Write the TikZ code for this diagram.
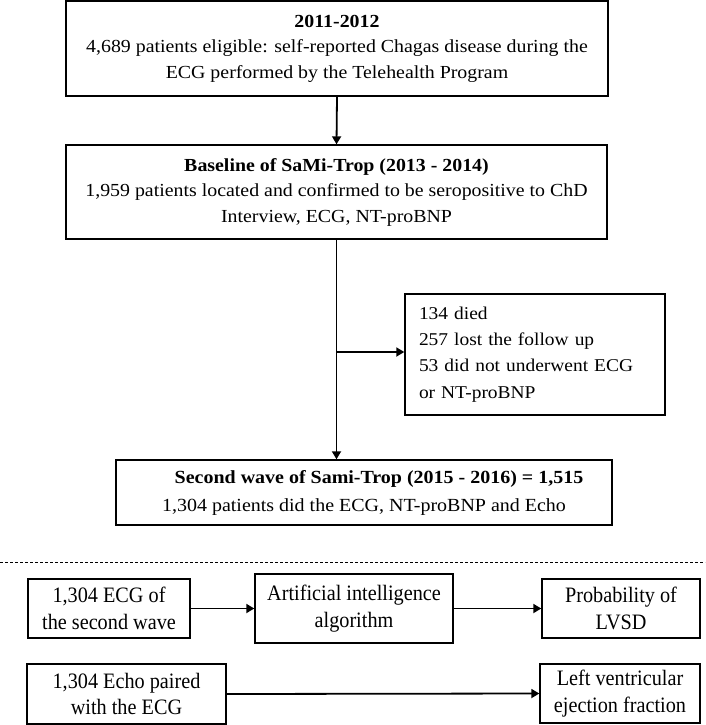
\documentclass[tikz,border=0pt]{standalone}
\usepackage{fontspec}
\setmainfont{Liberation Serif}
\newfontfamily\topfont{Liberation Serif}[FakeStretch=1.08]
\newfontfamily\botfont{Liberation Serif}[FakeStretch=0.92]
\usetikzlibrary{arrows.meta}
\begin{document}
\begin{tikzpicture}[x=1pt,y=-1pt,
  box/.style={draw,line width=1.4pt,inner sep=0pt,align=center,font=\topfont\fontsize{18.4}{25.5}\selectfont},
  bbox/.style={box,font=\botfont\fontsize{22}{26.5}\selectfont},
  arr/.style={line width=1.8pt,-{Triangle[length=8pt,width=9pt]}}]
\useasboundingbox (0,0) rectangle (705,725);
\node[box,minimum width=542pt,minimum height=95pt] (b1) at (337,48.5)
  {\textbf{2011-2012}\\4,689 patients eligible: self-reported Chagas disease during the\\ECG performed by the Telehealth Program};
\node[box,minimum width=541pt,minimum height=94pt] (b2) at (336.5,192)
  {\textbf{Baseline of SaMi-Trop (2013 - 2014)}\\1,959 patients located and confirmed to be seropositive to ChD\\Interview, ECG, NT-proBNP};
\node[box,minimum width=260pt,minimum height=121pt,align=left,text width=232pt,font=\topfont\fontsize{18}{26.3}\selectfont] (side) at (535,354.5)
  {134 died\\257 lost the follow up\\53 did not underwent ECG\\or NT-proBNP};
\node[box,minimum width=496pt,minimum height=65pt,font=\topfont\fontsize{18.5}{28}\selectfont] (b3) at (364,492.5)
  {\hspace*{30pt}\textbf{Second wave of Sami-Trop (2015 - 2016) = 1,515}\\1,304 patients did the ECG, NT-proBNP and Echo};
\node[bbox,minimum width=162pt,minimum height=59pt] (ecg) at (109,608.5)
  {1,304 ECG of\\the second wave};
\node[bbox,minimum width=198pt,minimum height=69pt] (ai) at (354,608.5)
  {Artificial intelligence\\algorithm};
\node[bbox,minimum width=158pt,minimum height=59pt] (prob) at (621,608.5)
  {Probability of\\LVSD};
\node[bbox,minimum width=199pt,minimum height=60pt] (echo) at (126.5,694)
  {1,304 Echo paired\\with the ECG};
\node[bbox,minimum width=160pt,minimum height=59pt] (lv) at (620,693.5)
  {Left ventricular\\ejection fraction};
\coordinate (branch) at (337,352);
\coordinate (dl) at (0,562);
\coordinate (dr) at (705,562);
\draw[arr] (b1.south) -- (b2.north);
\draw[arr] (b2.south) -- (b2.south |- b3.north);
\draw[arr] (branch) -- (branch -| side.west);
\draw[arr] (ecg.east) -- (ai.west);
\draw[arr] (ai.east) -- (prob.west);
\draw[arr] (echo.east) -- (lv.west);
\draw[line width=0.8pt,dash pattern=on 3pt off 2pt] (dl) -- (dr);
\end{tikzpicture}
\end{document}
